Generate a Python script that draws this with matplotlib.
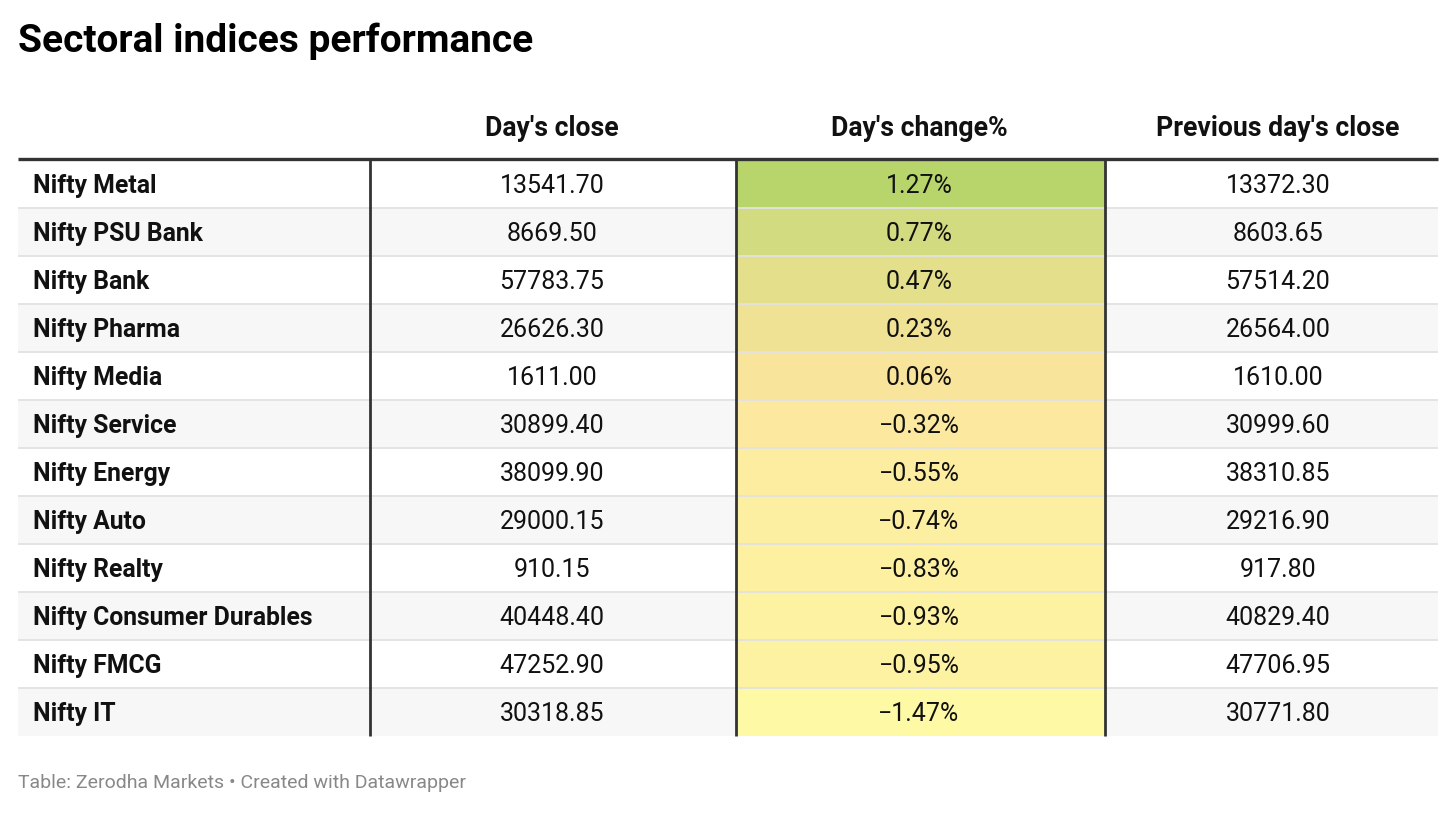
import matplotlib
matplotlib.use("Agg")
import matplotlib.pyplot as plt
from matplotlib.colors import LinearSegmentedColormap, Normalize

plt.rcParams['font.family'] = ['Roboto', 'DejaVu Sans']

title = "Sectoral indices performance"
footer = "Table: Zerodha Markets \u2022 Created with Datawrapper"
headers = ["", "Day's close", "Day's change%", "Previous day's close"]
indices = ["Nifty Metal", "Nifty PSU Bank", "Nifty Bank", "Nifty Pharma", "Nifty Media",
           "Nifty Service", "Nifty Energy", "Nifty Auto", "Nifty Realty",
           "Nifty Consumer Durables", "Nifty FMCG", "Nifty IT"]
day_close = [13541.70, 8669.50, 57783.75, 26626.30, 1611.00, 30899.40, 38099.90,
             29000.15, 910.15, 40448.40, 47252.90, 30318.85]
day_change = [1.27, 0.77, 0.47, 0.23, 0.06, -0.32, -0.55, -0.74, -0.83, -0.93, -0.95, -1.47]
prev_close = [13372.30, 8603.65, 57514.20, 26564.00, 1610.00, 30999.60, 38310.85,
              29216.90, 917.80, 40829.40, 47706.95, 30771.80]

W, H = 1456, 813
fig = plt.figure(figsize=(W / 100, H / 100), dpi=100)
ax = fig.add_axes([0, 0, 1, 1])
ax.set_xlim(0, W)
ax.set_ylim(H, 0)
ax.axis('off')

# layout (pixels)
left, right = 18, 1438
col_edges = [left, 370, 736, 1105, right]
col_centers = [None, 552, 919, 1278]
top = 160
row_h = 48
fs_name = 17.8
fs_num = 18
fs_head = 19.2

vmin, vmax = min(day_change), max(day_change)
zero_pos = (0 - vmin) / (vmax - vmin)
cmap = LinearSegmentedColormap.from_list(
    "dw", [(0.0, "#fef9a4"), (zero_pos, "#fce59d"), (1.0, "#b8d56c")])
norm = Normalize(vmin, vmax)

fig.text(18 / W, 1 - 41 / H, title, fontsize=28, fontweight='bold', color='#000000',
         va='center', ha='left')

for j, h in enumerate(headers):
    if h:
        ax.text(col_centers[j], 129, h, fontsize=fs_head, fontweight='bold', ha='center',
                va='center', color='#111111')

n = len(indices)
for i in range(n):
    y0 = top + i * row_h
    yc = y0 + row_h / 2
    bg = '#ffffff' if i % 2 == 0 else '#f7f7f7'
    ax.add_patch(plt.Rectangle((left, y0), right - left, row_h, facecolor=bg,
                               edgecolor='none', zorder=1))
    ax.add_patch(plt.Rectangle((col_edges[2], y0), col_edges[3] - col_edges[2], row_h,
                               facecolor=cmap(norm(day_change[i])), edgecolor='none', zorder=2))
    if i > 0:
        ax.plot([left, right], [y0, y0], color='#e2e2e2', lw=1.3, zorder=3,
                solid_capstyle='butt')
    ax.text(33, yc + 2, indices[i], fontsize=fs_name, fontweight='bold', ha='left',
            va='center', color='#111111', zorder=5)
    ax.text(col_centers[1], yc + 2, f"{day_close[i]:.2f}", fontsize=fs_num, ha='center',
            va='center', color='#111111', zorder=5)
    ch = day_change[i]
    s = (f"{ch:.2f}%" if ch >= 0 else f"\u2212{abs(ch):.2f}%")
    ax.text(col_centers[2], yc + 2, s, fontsize=fs_num, ha='center', va='center',
            color='#111111', zorder=5)
    ax.text(col_centers[3], yc + 2, f"{prev_close[i]:.2f}", fontsize=fs_num, ha='center',
            va='center', color='#111111', zorder=5)

bottom = top + n * row_h
# header rule
ax.plot([left, right], [top - 1, top - 1], color='#333333', lw=2.4, zorder=6,
        solid_capstyle='butt')
# column separators
for x in col_edges[1:4]:
    ax.plot([x, x], [top, bottom], color='#333333', lw=2.0, zorder=6,
            solid_capstyle='butt')

fig.text(18 / W, 1 - 783 / H, footer, fontsize=14, color='#888888', ha='left',
         va='center')

fig.savefig("out.png", dpi=100)
